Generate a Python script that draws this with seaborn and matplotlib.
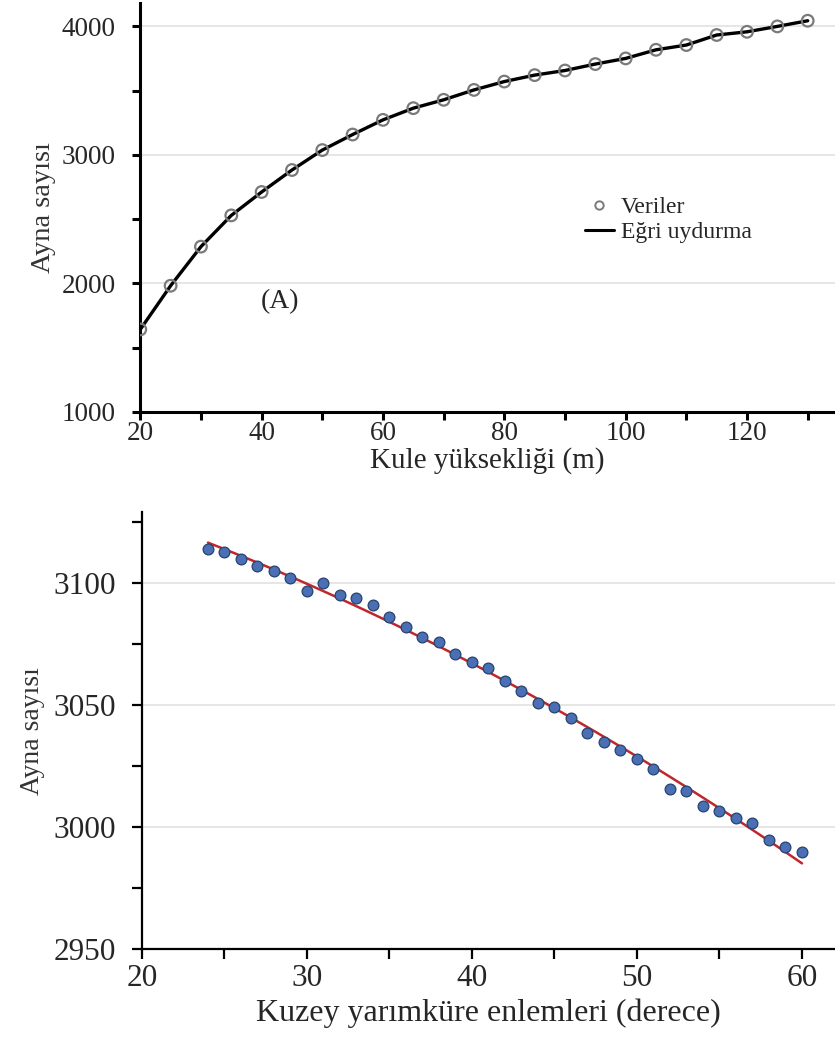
import numpy as np
import pandas as pd
import matplotlib
matplotlib.use('Agg')
import matplotlib.pyplot as plt
import seaborn as sns
from matplotlib.ticker import MultipleLocator
from matplotlib.lines import Line2D

# (A) tower height vs mirror count
kule = [20, 25, 30, 35, 40, 45, 50, 55, 60, 65, 70, 75, 80, 85, 90, 95,
        100, 105, 110, 115, 120, 125, 130]
ayna_a = [1642, 1982, 2286, 2529, 2711, 2882, 3037, 3158, 3272, 3363, 3428,
          3505, 3570, 3620, 3656, 3706, 3750, 3817, 3854, 3932, 3957, 3999, 4043]

# (B) latitude vs mirror count
enlem = list(range(24, 61))
ayna_b = [3113.8, 3112.7, 3109.9, 3106.9, 3105.0, 3102.0, 3096.8, 3100.0,
          3095.0, 3094.0, 3091.0, 3086.0, 3082.0, 3078.0, 3076.0, 3070.8,
          3067.8, 3065.0, 3059.9, 3055.8, 3050.8, 3049.0, 3044.7, 3038.7,
          3034.8, 3031.7, 3027.8, 3023.9, 3015.7, 3014.7, 3008.8, 3006.5,
          3003.6, 3001.7, 2994.5, 2991.7, 2989.8]

df_a = pd.DataFrame({'x': kule, 'y': ayna_a})
df_b = pd.DataFrame({'x': enlem, 'y': ayna_b})

sns.set_style('white')
plt.rcParams['font.family'] = ['Liberation Serif', 'DejaVu Serif']

fig = plt.figure(figsize=(8.35, 10.43), dpi=100)
ax1 = fig.add_axes([0.168, 0.605, 0.832, 0.392])
ax2 = fig.add_axes([0.170, 0.090, 0.830, 0.419])

# ---- top panel
sns.lineplot(data=df_a, x='x', y='y', ax=ax1, color='black', linewidth=2.4,
             zorder=2)
sns.scatterplot(data=df_a, x='x', y='y', ax=ax1, marker='o', s=70,
                facecolor='none', edgecolor='#7a7a7a', linewidth=1.6, zorder=3)
ax1.set(xlim=(20, 134.5), ylim=(1000, 4180))
ax1.xaxis.set_major_locator(MultipleLocator(20))
ax1.xaxis.set_minor_locator(MultipleLocator(10))
ax1.yaxis.set_major_locator(MultipleLocator(1000))
ax1.yaxis.set_minor_locator(MultipleLocator(500))
ax1.yaxis.grid(True, color='#e2e2e2', linewidth=1.2)
ax1.set_axisbelow(True)
ax1.set_xlabel('Kule yüksekliği (m)', fontsize=21, labelpad=1)
ax1.set_ylabel('Ayna sayısı', fontsize=20.5, color='#333333', labelpad=4)
ax1.text(43, 1860, '(A)', fontsize=20, ha='center', va='center')
handles = [Line2D([], [], marker='o', linestyle='none', markersize=6,
                  markerfacecolor='none', markeredgecolor='#7a7a7a',
                  markeredgewidth=1.4),
           Line2D([], [], color='black', linewidth=2.2)]
ax1.legend(handles, ['Veriler', 'Eğri uydurma'], frameon=False, fontsize=17,
           loc='center left', bbox_to_anchor=(0.61, 0.47), handlelength=1.2,
           handletextpad=0.3, labelspacing=0.15)

# ---- bottom panel
sns.regplot(data=df_b, x='x', y='y', ax=ax2, order=2, ci=None, scatter=False,
            line_kws={'color': '#c0272d', 'linewidth': 1.8})
sns.scatterplot(data=df_b, x='x', y='y', ax=ax2, s=60, color='#4a6fb5',
                edgecolor='#26436e', linewidth=0.9, zorder=3)
ax2.set(xlim=(20, 62), ylim=(2950, 3129))
ax2.xaxis.set_major_locator(MultipleLocator(10))
ax2.xaxis.set_minor_locator(MultipleLocator(5))
ax2.yaxis.set_major_locator(MultipleLocator(50))
ax2.yaxis.set_minor_locator(MultipleLocator(25))
ax2.yaxis.grid(True, color='#e2e2e2', linewidth=1.2)
ax2.set_axisbelow(True)
ax2.set_xlabel('Kuzey yarımküre enlemleri (derece)', fontsize=23, labelpad=4)
ax2.set_ylabel('Ayna sayısı', fontsize=20, color='#333333', labelpad=6)

for ax, lw, fs, tl in [(ax1, 2.2, 19.5, 5.5), (ax2, 1.6, 22.5, 7)]:
    sns.despine(ax=ax)
    for s in ['left', 'bottom']:
        ax.spines[s].set_linewidth(lw)
        ax.spines[s].set_color('black')
    ax.tick_params(which='both', direction='out', length=tl, width=lw,
                   color='black', labelsize=fs, left=True, bottom=True)
ax1.tick_params(axis='x', which='major', pad=1)
ax1.tick_params(axis='y', which='major', pad=12)
ax2.tick_params(axis='x', which='major', pad=4)
ax2.tick_params(axis='y', which='major', pad=12)

fig.savefig('out.png', dpi=100)
